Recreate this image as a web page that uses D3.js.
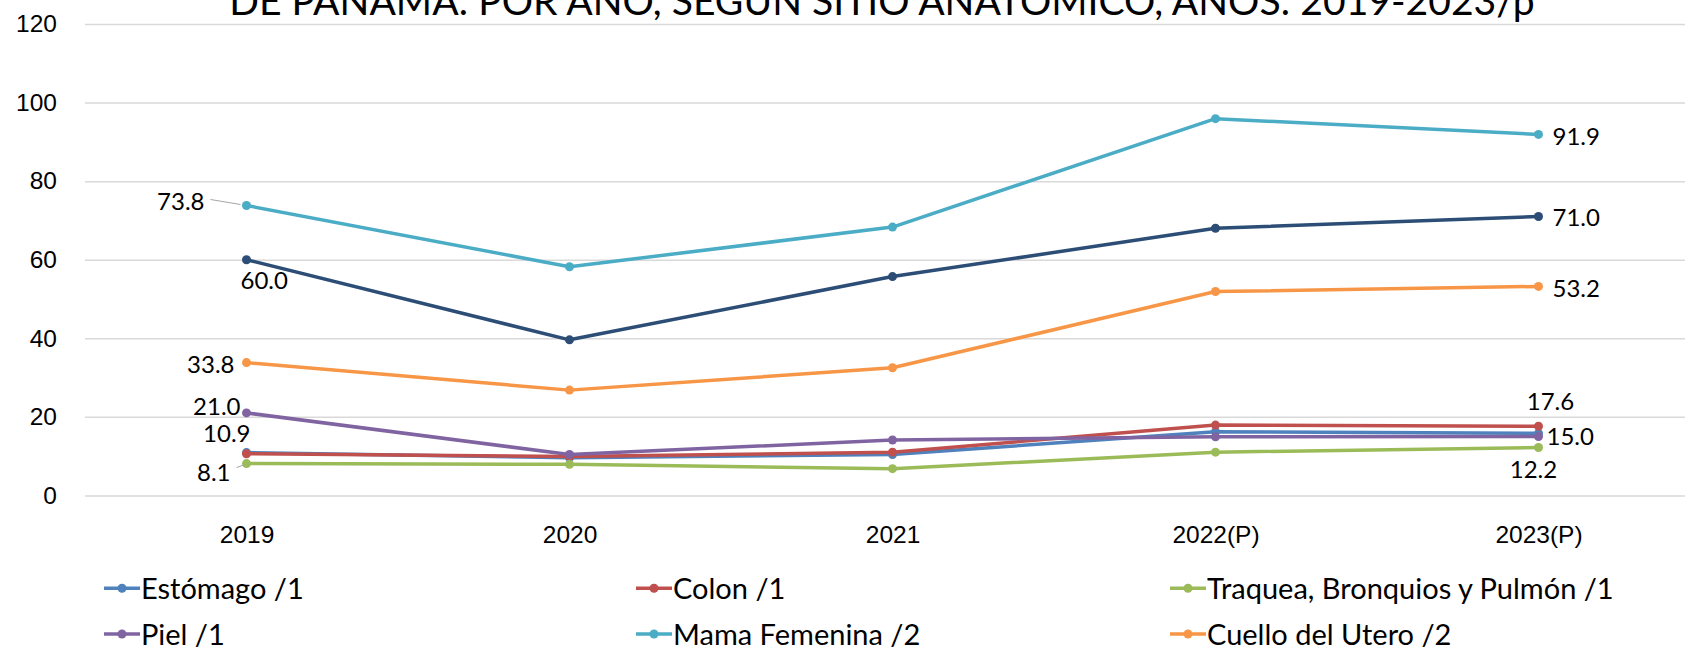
<!DOCTYPE html>
<html>
<head>
<meta charset="utf-8">
<script src="https://cdn.jsdelivr.net/npm/d3@7"></script>
<style>
  body { margin: 0; background: #fff; }
  svg { display: block; font-family: Lato, "Liberation Sans", sans-serif; }
</style>
</head>
<body>
<div id="chart"></div>
<script>
//chart data
var titleText = "DE PANAMÁ: POR AÑO, SEGÚN SITIO ANATÓMICO, AÑOS: 2019-2023/p";
var years = ["2019", "2020", "2021", "2022(P)", "2023(P)"];
var yTicks = [0, 20, 40, 60, 80, 100, 120];

var seriesNames = ["Estómago /1", "Colon /1", "Traquea, Bronquios y Pulmón /1",
    "Piel /1", "Mama Femenina /2", "Cuello del Utero /2", "Próstata /2"];
var estomago = [10.9, 9.6, 10.4, 16.2, 15.8];
var colon = [10.6, 9.9, 11.0, 17.9, 17.6];
var traquea = [8.1, 7.9, 6.8, 11.0, 12.2];
var piel = [21.0, 10.4, 14.1, 14.9, 15.0];
var mama = [73.8, 58.2, 68.3, 95.9, 91.9];
var cuello = [33.8, 26.8, 32.5, 51.9, 53.2];
var prostata = [60.0, 39.6, 55.7, 68.0, 71.0];
var seriesValues = [estomago, colon, traquea, piel, mama, cuello, prostata];

//which points carry a value label: [series index, year index]
var labelled = [[4, 0], [6, 0], [5, 0], [3, 0], [0, 0], [2, 0],
    [4, 4], [6, 4], [5, 4], [1, 4], [3, 4], [2, 4]];

//styles
var colors = ["#4F81BD", "#C0504D", "#9BBB59", "#8064A2", "#4BACC6", "#F79646", "#2C4D75"];
//label placement relative to its point (same order as labelled)
var labelPlace = [
    {dx: -42, dy: 5, anchor: "end", leader: [[-36, -6], [-6, -1]]},
    {dx: -6, dy: 29, anchor: "start"},
    {dx: -12, dy: 10, anchor: "end"},
    {dx: -6, dy: 2, anchor: "end"},
    {dx: 4, dy: -11, anchor: "end"},
    {dx: -16, dy: 17, anchor: "end", leader: [[-10, 4], [-2, 1]]},
    {dx: 14, dy: 11, anchor: "start"},
    {dx: 14, dy: 10, anchor: "start"},
    {dx: 14, dy: 11, anchor: "start"},
    {dx: 12, dy: -16, anchor: "middle"},
    {dx: 8, dy: 9, anchor: "start"},
    {dx: -5, dy: 31, anchor: "middle"}
];

//svg dimensions
var svgWidth = 1685;
var svgHeight = 647;
var plotLeft = 85;
var plotRight = 1700;
var plotTop = 24;
var plotBottom = 495.4;

var svg = d3.select("#chart")
    .append("svg")
    .attr("width", svgWidth)
    .attr("height", svgHeight);

//scales
var xScale = d3.scalePoint().domain(years).range([plotLeft, plotRight]).padding(0.5);
var yScale = d3.scaleLinear().domain([0, 120]).range([plotBottom, plotTop]);

//title (top part is cut off in the original)
var title = svg.append("text")
    .attr("x", 882)
    .attr("y", 15)
    .attr("text-anchor", "middle")
    .attr("fill", "#000")
    .style("font-size", "36px")
    .text(titleText);
var tw = title.node().getComputedTextLength();
title.style("font-size", (36 * 1306 / tw) + "px");

//y axis with gridlines
var yAxis = svg.append("g")
    .attr("transform", `translate(${plotLeft}, 0)`)
    .call(d3.axisLeft(yScale).tickValues(yTicks).tickSize(-(plotRight - plotLeft)).tickPadding(28));
yAxis.select(".domain").remove();
yAxis.selectAll("line").attr("stroke", "#d9d9d9").attr("stroke-width", 1.5);
yAxis.selectAll("text").attr("fill", "#000").style("font-size", "24.5px").attr("font-family", null);

//x axis labels
var xAxis = svg.append("g")
    .attr("transform", `translate(0, ${plotBottom})`)
    .call(d3.axisBottom(xScale).tickSize(0).tickPadding(30));
xAxis.select(".domain").remove();
xAxis.selectAll("text").attr("fill", "#000").style("font-size", "24.5px").attr("font-family", null);

//lines and markers
var line = d3.line()
    .x((d, i) => xScale(years[i]))
    .y(d => yScale(d));

seriesValues.forEach(function(vals, s) {
    svg.append("path")
        .datum(vals)
        .attr("d", line)
        .attr("fill", "none")
        .attr("stroke", colors[s])
        .attr("stroke-width", 3.5)
        .attr("stroke-linejoin", "round")
        .attr("stroke-linecap", "round");
    svg.selectAll(null)
        .data(vals)
        .enter()
        .append("circle")
        .attr("cx", (d, i) => xScale(years[i]))
        .attr("cy", d => yScale(d))
        .attr("r", 4.5)
        .attr("fill", colors[s]);
});

//value labels
labelled.forEach(function(p, k) {
    var px = xScale(years[p[1]]);
    var py = yScale(seriesValues[p[0]][p[1]]);
    var pl = labelPlace[k];
    if (pl.leader) {
        svg.append("path")
            .attr("d", d3.line()([[px + pl.leader[0][0], py + pl.leader[0][1]], [px + pl.leader[1][0], py + pl.leader[1][1]]]))
            .attr("stroke", "#a6a6a6")
            .attr("stroke-width", 1)
            .attr("fill", "none");
    }
    svg.append("text")
        .attr("x", px + pl.dx)
        .attr("y", py + pl.dy)
        .attr("text-anchor", pl.anchor)
        .attr("fill", "#000")
        .style("font-size", "24px")
        .text(d3.format(".1f")(seriesValues[p[0]][p[1]]));
});

//legend, 3 columns (third row falls outside the picture)
var legendX = [104, 636, 1170];
var legendY = [588.3, 634, 683];
seriesNames.forEach(function(name, s) {
    var g = svg.append("g")
        .attr("transform", `translate(${legendX[s % 3]}, ${legendY[Math.floor(s / 3)]})`);
    g.append("line")
        .attr("x1", 0).attr("x2", 36)
        .attr("stroke", colors[s])
        .attr("stroke-width", 3.5);
    g.append("circle")
        .attr("cx", 18)
        .attr("r", 4.5)
        .attr("fill", colors[s]);
    g.append("text")
        .attr("x", 37)
        .attr("y", 11)
        .attr("fill", "#000")
        .style("font-size", "29px")
        .text(name);
});
</script>
</body>
</html>
